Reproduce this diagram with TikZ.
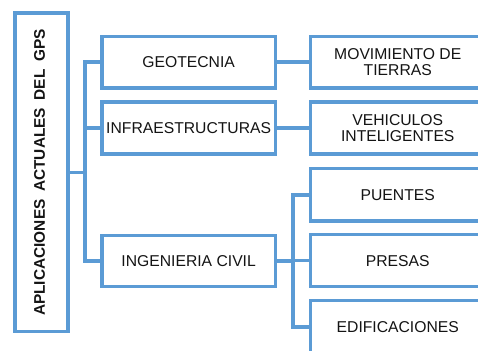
\documentclass[tikz,border=0pt]{standalone}
\usepackage{fontspec}
\setmainfont{Liberation Sans}
\definecolor{bl}{RGB}{91,155,213}
\definecolor{tx}{RGB}{20,20,20}
\newcommand{\wgap}{\hspace{0.5em}}
\tikzset{
  box/.style={draw=bl, line width=3.5pt, fill=white, inner sep=0pt, outer sep=0pt,
    align=center, text=tx, font=\fontsize{15.7}{16}\selectfont},
  conn/.style={draw=bl, line width=3.5pt, line join=miter}
}
\begin{document}
\begin{tikzpicture}[x=1pt,y=-1pt]
\useasboundingbox (0,0) rectangle (478,350);
\clip (0,0) rectangle (478,350);
\fill[white] (0,0) rectangle (478,350);
% main vertical box
\node[box, minimum width=53pt, minimum height=318.5pt] (main) at (41.25,172.25) {};
\node[rotate=90, inner sep=0pt, text=tx, font=\bfseries\fontsize{15.4}{16}\selectfont] (maintxt) at (39.5,172.5) {APLICACIONES\wgap ACTUALES\wgap DEL\wgap GPS};
% middle column
\node[box, minimum width=173.3pt, minimum height=51.7pt] (geo) at (188.65,62.15) {GEOTECNIA};
\node[box, minimum width=173.3pt, minimum height=51.8pt] (inf) at (188.65,127.9) {INFRAESTRUCTURAS};
\node[box, minimum width=173.3pt, minimum height=51pt] (ing) at (188.65,261) {INGENIERIA CIVIL};
% right column
\node[box, minimum width=174.5pt, minimum height=51.7pt] (mov) at (397.75,62.15) {MOVIMIENTO DE\\TIERRAS};
\node[box, minimum width=174.5pt, minimum height=51.8pt] (veh) at (397.75,127.9) {VEHICULOS\\INTELIGENTES};
\node[box, minimum width=174.5pt, minimum height=52.7pt] (pue) at (397.75,194.85) {PUENTES};
\node[box, minimum width=174.5pt, minimum height=51.8pt] (pre) at (397.75,260.6) {PRESAS};
\node[box, minimum width=174.5pt, minimum height=53.4pt] (edi) at (397.75,327.2) {EDIFICACIONES};
% bus coordinates
\coordinate (busA) at (85,0);
\coordinate (busB) at (293.2,0);
% connectors
\draw[conn] (main.east) -- (main.east -| busA);
\draw[conn] (geo.west) -| (busA |- ing.west) -- (ing.west);
\draw[conn] (inf.west) -- (inf.west -| busA);
\draw[conn] (geo.east) -- (mov.west);
\draw[conn] (inf.east) -- (veh.west);
\draw[conn] (ing.east) -- (ing.east -| busB);
\draw[conn] (pue.west) -| (busB |- edi.west) -- (edi.west);
\draw[conn] (pre.west) -- (pre.west -| busB);
\end{tikzpicture}
\end{document}
